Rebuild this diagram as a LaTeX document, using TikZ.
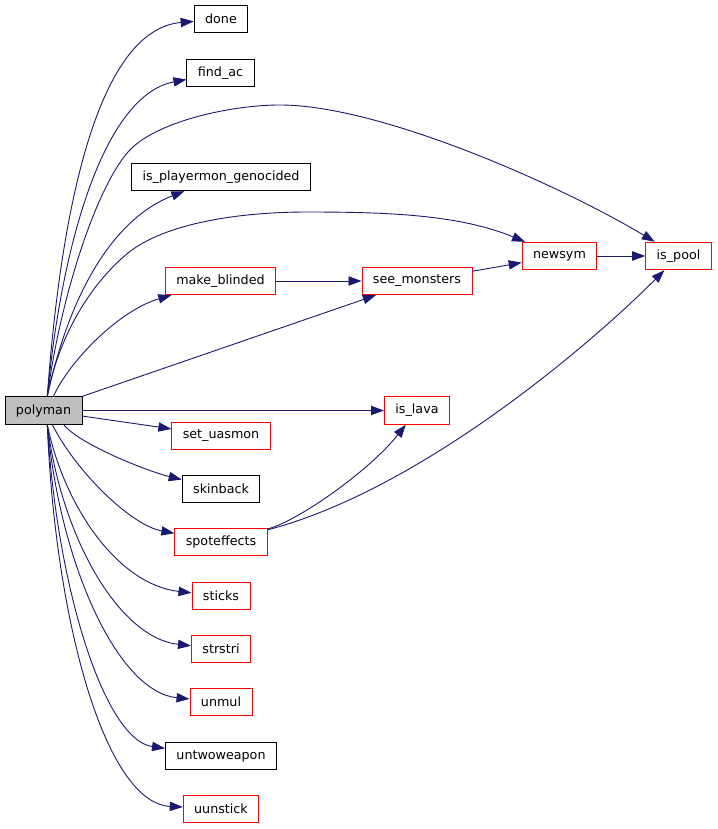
\documentclass[tikz,border=0pt]{standalone}
\usepackage{fontspec}
\setmainfont{DejaVu Sans}
\usepackage{tikz}
\usetikzlibrary{arrows.meta}
\definecolor{callblue}{RGB}{25,25,112}
\definecolor{boxgray}{RGB}{191,191,191}
\definecolor{boxred}{RGB}{255,0,0}

\begin{document}
\begin{tikzpicture}[x=1pt,y=-1pt]

           \tikzstyle{every node}=[font=\fontsize{12.7}{15}\selectfont]
           \tikzstyle{fn}=[draw, rectangle, line width=0.9pt, minimum height=27.5pt, inner xsep=11pt, inner ysep=0pt]
           \tikzstyle{leaf}=[fn, draw=black]
           \tikzstyle{more}=[fn, draw=boxred]
           \tikzstyle{call}=[->, >={Triangle[length=13pt,width=9.3pt]}, draw=callblue, line width=0.9pt]

    \useasboundingbox (0,0) rectangle (717,829);

    \node[leaf, fill=boxgray] (F0) at (43.5,410.5) {polyman};
    \node[leaf] (F1) at (221,19) {done};
    \node[leaf] (F2) at (220.5,73) {find\_ac};
    \node[leaf] (F3) at (221,177) {is\_playermon\_genocided};
    \node[more] (F4) at (220.5,281) {make\_blinded};
    \node[more] (F5) at (417,281) {see\_monsters};
    \node[more] (F6) at (559.5,256) {newsym};
    \node[more] (F7) at (678.5,256) {is\_pool};
    \node[more] (F8) at (417,410.5) {is\_lava};
    \node[more] (F9) at (221,436) {set\_uasmon};
    \node[leaf] (F10) at (221,489) {skinback};
    \node[more] (F11) at (221,542) {spoteffects};
    \node[more] (F12) at (221,596) {sticks};
    \node[more] (F13) at (221,649) {strstri};
    \node[more] (F14) at (221,702) {unmul};
    \node[leaf] (F15) at (221,756) {untwoweapon};
    \node[more] (F16) at (221,809) {uunstick};

    % calls going up
    \draw[call] (F0.75) .. controls (60,220) and (95,30) .. (F1);
    \draw[call] (F0.75) .. controls (62,240) and (105,95) .. (F2);
    \draw[call] (F0.75) .. controls (60,300) and (95,190) .. (128,152)
                        .. controls (154,122) and (230,105) .. (280,105)
                        .. controls (380,105) and (560,185) .. (F7);
    \draw[call] (F0.75) .. controls (68,300) and (110,220) .. (F3);
    \draw[call] (F0.75) .. controls (60,330) and (95,280) .. (128,253)
                        .. controls (165,223) and (240,212) .. (307,212)
                        .. controls (390,212) and (460,215) .. (F6);
    \draw[call] (F0.55) .. controls (70,360) and (120,310) .. (F4);
    \path (F0.north east) edge[call] (F5);
    \path (F4) edge[call] (F5);
    \path (F5) edge[call] (F6);
    \path (F6) edge[call] (F7);

    % calls going right and down
    \path (F0) edge[call] (F8);
    \path (F0) edge[call] (F9);
    \draw[call] (F0.-35) .. controls (80,445) and (150,472) .. (F10);
    \draw[call] (F0.-58) .. controls (75,470) and (130,525) .. (F11);
    \draw[call] (F11) .. controls (300,520) and (370,470) .. (F8);
    \draw[call] (F11) .. controls (420,490) and (590,345) .. (F7);
    \draw[call] (F0.-75) .. controls (65,510) and (120,585) .. (F12);
    \draw[call] (F0.-75) .. controls (62,540) and (120,638) .. (F13);
    \draw[call] (F0.-75) .. controls (60,565) and (118,692) .. (F14);
    \draw[call] (F0.-75) .. controls (57,590) and (105,740) .. (F15);
    \draw[call] (F0.-75) .. controls (55,620) and (105,803) .. (F16);

\end{tikzpicture}
\end{document}
